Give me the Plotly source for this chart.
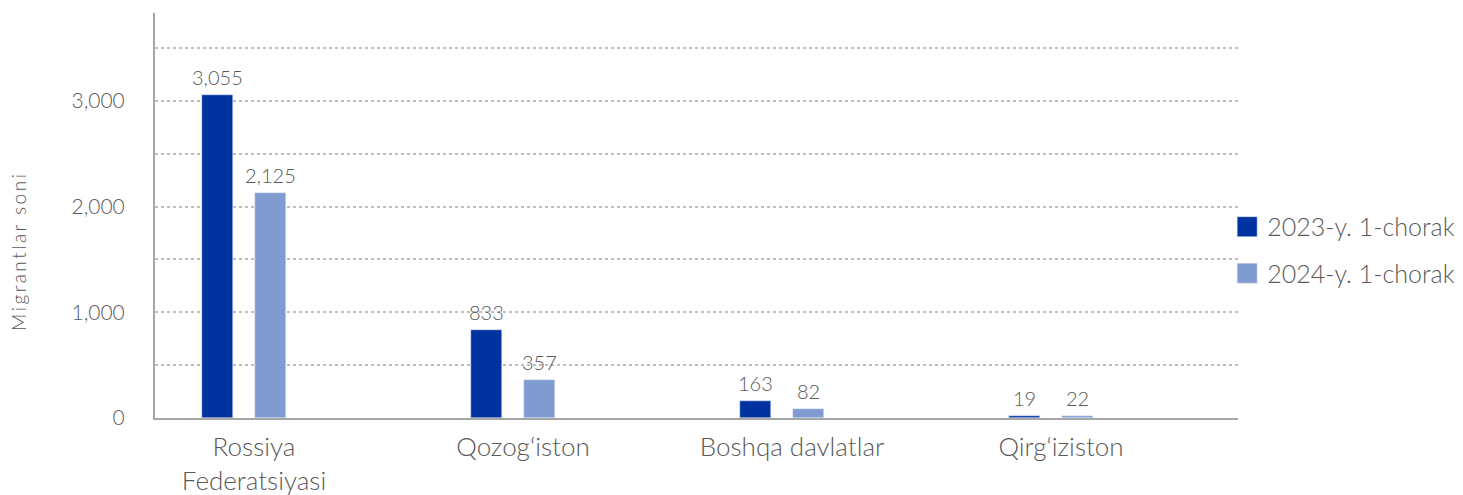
import plotly.graph_objects as go

categories = ["Rossiya<br>Federatsiyasi", "Qozog\u2018iston", "Boshqa davlatlar", "Qirg\u2018iziston"]
series_names = ["2023-y. 1-chorak", "2024-y. 1-chorak"]
values_2023 = [3055, 833, 163, 19]
values_2024 = [2125, 357, 82, 22]
y_tickvals = [0, 1000, 2000, 3000]
y_ticktext = ["0", "1,000", "2,000", "3,000"]
y_title = "Migrantlar soni"

DARK = "#0033A0"
LIGHT = "#7F9BD0"
TXT = "#595959"
FONT = "Lato"
BAR_W = 0.115

fig = go.Figure()
for name, vals, col, off, grp in [
    (series_names[0], values_2023, DARK, -0.193, "a"),
    (series_names[1], values_2024, LIGHT, 0.004, "b"),
]:
    fig.add_trace(go.Bar(
        x=categories, y=vals, name=name, marker_color=col,
        width=BAR_W, offset=off, legendgroup=grp, cliponaxis=False,
    ))
    for i, v in enumerate(vals):
        fig.add_annotation(
            x=i + off + BAR_W / 2, y=v, xref="x", yref="y",
            text=f"{v:,}", showarrow=False, yanchor="bottom", yshift=4,
            font=dict(family=FONT, size=20, color=TXT, weight=300),
        )

fig.add_annotation(
    text=y_title, xref="paper", yref="paper", x=-0.1265, y=0.412,
    xanchor="center", yanchor="middle", textangle=-90, showarrow=False,
    font=dict(family=FONT, size=19, color=TXT, weight=300), name="ytitle",
)

fig.update_layout(
    width=1463, height=495,
    margin=dict(l=155, r=225, t=13, b=77, autoexpand=False),
    plot_bgcolor="white", paper_bgcolor="white",
    font=dict(family=FONT, color=TXT, weight=300),
    showlegend=True,
    legend=dict(x=0.99, xanchor="left", y=0.415, yanchor="middle",
                font=dict(family=FONT, size=25, color=TXT, weight=300),
                tracegroupgap=11, itemwidth=30, bgcolor="rgba(0,0,0,0)"),
    bargap=0,
)
fig.update_xaxes(
    type="category", range=[-0.368, 3.658], automargin=False,
    showline=True, linecolor="#a6a6a6", linewidth=2,
    ticks="", showgrid=False, ticklabelstandoff=5,
    tickfont=dict(family=FONT, size=26, color=TXT, weight=300),
)
fig.update_yaxes(
    range=[0, 3830], tickvals=y_tickvals, ticktext=y_ticktext, automargin=False,
    showline=True, linecolor="#a6a6a6", linewidth=2,
    showgrid=True, gridcolor="#bfbfbf", gridwidth=2, griddash="dot",
    minor=dict(dtick=500, tick0=0, showgrid=True, gridcolor="#bfbfbf", gridwidth=2, griddash="dot"),
    zeroline=False, ticks="", ticklabelstandoff=24,
    tickfont=dict(family=FONT, size=21, color=TXT, weight=300),
)

post = """
document.body.style.margin = '0';
var anns = document.querySelectorAll('.annotation-text');
anns.forEach(function(e){ if (e.textContent === 'Migrantlar soni') { e.style.letterSpacing = '2.5px'; } });
document.querySelectorAll('.legendpoints path').forEach(function(p){ p.setAttribute('d', 'M10,10H-10V-10H10Z'); });
"""
fig.write_html("out.html", post_script=post, config={"displayModeBar": False})
